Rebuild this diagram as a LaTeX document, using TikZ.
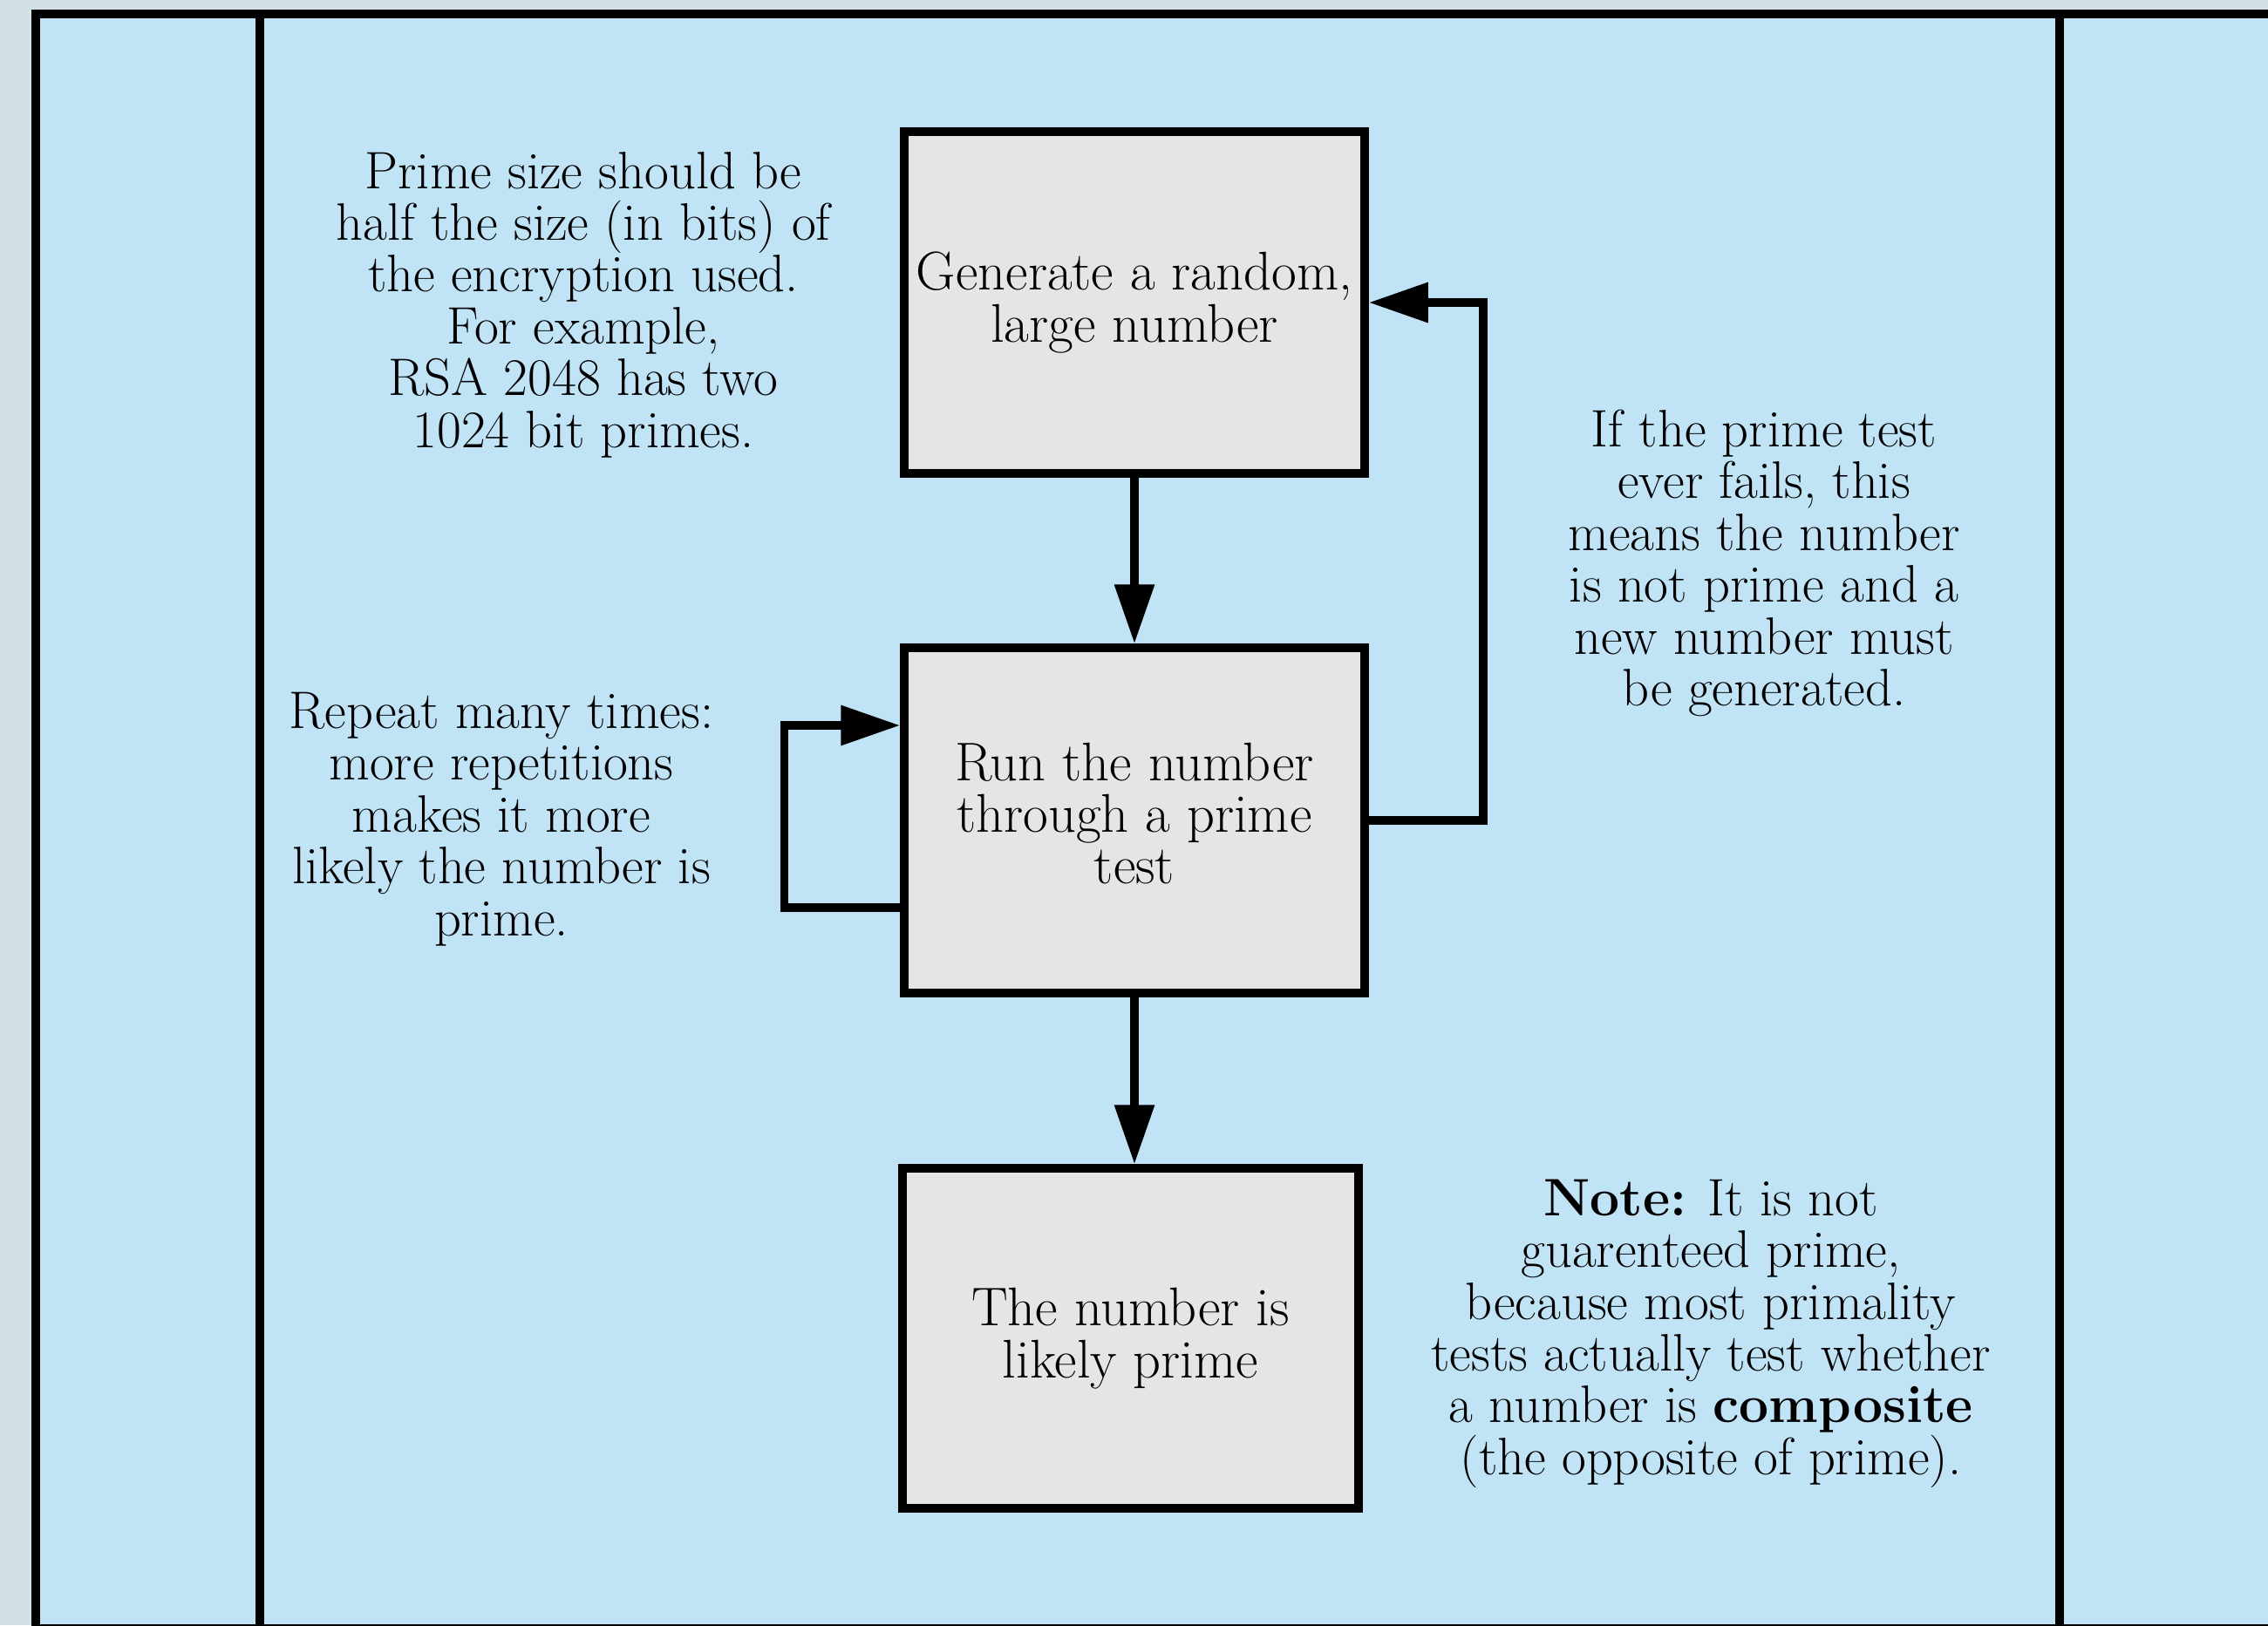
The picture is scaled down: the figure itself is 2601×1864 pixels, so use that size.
\documentclass[tikz,border=0pt]{standalone}
\usetikzlibrary{arrows.meta}
\definecolor{outerbg}{HTML}{D3E0E5}
\definecolor{panel}{HTML}{C0E3F6}
\definecolor{boxfill}{HTML}{E5E5E5}
\begin{document}
\begin{tikzpicture}[x=1pt,y=-1pt,
  frameline/.style={line width=10pt,black},
  pbox/.style={draw=black,fill=boxfill,line width=9.5pt,rectangle,inner sep=0pt,align=center,
    font=\fontsize{62.5}{59.4}\selectfont},
  boxtxt/.style={align=center,inner sep=0pt,font=\fontsize{62.5}{59.4}\selectfont},
  txt/.style={align=center,inner sep=0pt,font=\fontsize{60.5}{59.4}\selectfont},
  arr/.style={line width=9.5pt,line join=miter,-{Triangle[length=68pt,width=44pt]}}]
\useasboundingbox (0,0) rectangle (2601,1864);
\begin{scope}
\clip (0,0) rectangle (2601,1864);
\fill[outerbg] (0,0) rectangle (2601,1864);
\fill[panel] (41,16) rectangle (2660,1868);
\draw[frameline] (2660,16) -- (41,16) -- (41,1868) -- (2660,1868);
\draw[frameline] (298,16) -- (298,1868);
\draw[frameline] (2362,16) -- (2362,1868);
\end{scope}

\node[pbox,minimum width=528pt,minimum height=392pt] (b1) at (1301,347) {Generate a random,\\large number};
\node[pbox,minimum width=528pt,minimum height=396pt] (b2) at (1301,941) {};
\node[boxtxt] (b2t) at ([yshift=8pt]b2.center) {Run the number\\through a prime\\test};
\node[pbox,minimum width=523pt,minimum height=390pt] (b3) at (1296.5,1535) {The number is\\likely prime};

\node[txt] (t1) at (669,349.5) {Prime size should be\\half the size (in bits) of\\the encryption used.\\For example,\\RSA 2048 has two\\1024 bit primes.};
\node[txt] (t2) at (575,939.5) {Repeat many times:\\more repetitions\\makes it more\\likely the number is\\prime.};
\node[txt] (t3) at (2023,646) {If the prime test\\ever fails, this\\means the number\\is not prime and a\\new number must\\be generated.};
\node[txt] (t4) at (1962,1529.5) {\textbf{Note:} It is not\\guarenteed prime,\\because most primality\\tests actually test whether\\a number is \textbf{composite}\\(the opposite of prime).};

\coordinate (rx) at (1701,0);
\draw[arr] (b1.south) -- (b2.north);
\draw[arr] (b2.south) -- (b2.south |- b3.north);
\draw[arr] (b2.east) -- (b2.east -| rx) |- (b1.east);
\draw[arr] ([yshift=-100pt]b2.west) -- ++(-133,0) |- ([yshift=109pt]b2.west);
\end{tikzpicture}
\end{document}
